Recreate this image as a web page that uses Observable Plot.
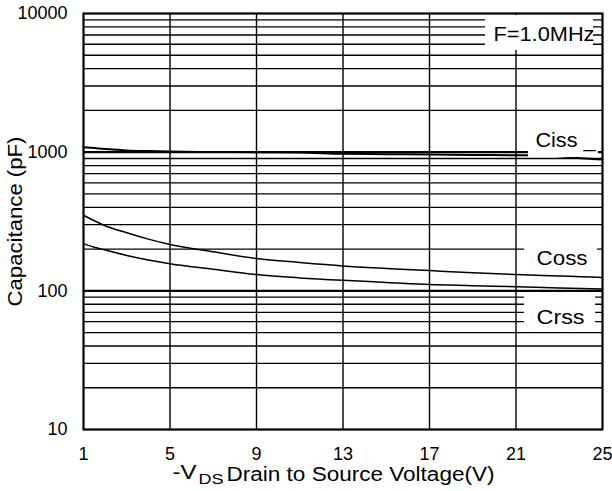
<!DOCTYPE html>
<html>
<head>
<meta charset="utf-8">
<script src="https://cdn.jsdelivr.net/npm/d3@7"></script>
<script src="https://cdn.jsdelivr.net/npm/@observablehq/plot@0.6"></script>
<style>
  html, body { margin: 0; padding: 0; background: #fff; }
</style>
</head>
<body>
<script>
// ---- data ----
const voltage = [1, 1.5, 2, 3, 4, 5, 7, 9, 11, 13, 15, 17, 19, 21, 23, 24, 25];
const ciss = [1085, 1070, 1055, 1030, 1018, 1010, 1003, 1000, 995, 973, 967, 962, 956, 950, 935, 905, 885];
const coss = [351, 320, 295, 262, 236, 216, 191, 171, 160, 151, 145, 140, 135, 131, 128, 126.5, 125];
const crss = [219, 206, 197, 180, 167, 157, 143, 131, 124, 119, 115, 111, 109, 107, 105, 104, 103];

const xTicks = [1, 5, 9, 13, 17, 21, 25];
const yTicks = [10, 100, 1000, 10000];

const labelText = ["F=1.0MHz", "Ciss _", "Coss", "Crss"];
const labelX = [19.96, 21.9, 21.95, 21.95];
const labelY = [6383, 1081, 152.3, 58.1];

const boxX1 = [19.59, 21.58, 21.39, 21.39];
const boxX2 = [24.58, 24.81, 24.77, 24.68];
const boxY1 = [5410, 915, 133, 51.8];
const boxY2 = [9660, 1690, 272, 97.3];

// ---- derived tables ----
const series = [
  ...voltage.map((v, i) => ({v, c: ciss[i], s: "Ciss"})),
  ...voltage.map((v, i) => ({v, c: coss[i], s: "Coss"})),
  ...voltage.map((v, i) => ({v, c: crss[i], s: "Crss"}))
];
const gridY = [];
for (const d of [10, 100, 1000]) for (let k = 1; k <= 9; k++) gridY.push(k * d);
gridY.push(10000);
const majorY = [100, 1000];
const labels = labelText.map((t, i) => ({t, x: labelX[i], y: labelY[i]}));
const boxes = boxX1.map((x1, i) => ({x1, x2: boxX2[i], y1: boxY1[i], y2: boxY2[i]}));

const textWidths = {
  "Capacitance (pF)": 170,
  "Drain to Source Voltage(V)": 268,
  "-V": 24,
  "DS": 25,
  "F=1.0MHz": 101,
  "Ciss _": 60,
  "Coss": 51,
  "Crss": 48
};

const chart = Plot.plot({
  width: 612,
  height: 491,
  marginLeft: 83,
  marginRight: 10,
  marginTop: 13,
  marginBottom: 62,
  style: {fontFamily: "'Liberation Sans', Arial, sans-serif", fontSize: "18px", background: "white", color: "black"},
  x: {domain: [1, 25]},
  y: {type: "log", domain: [10, 10000]},
  marks: [
    Plot.ruleY(gridY.filter(d => !majorY.includes(d)), {stroke: "black", strokeWidth: 1.3}),
    Plot.ruleY(majorY, {stroke: "black", strokeWidth: 2.2}),
    Plot.ruleX(xTicks, {stroke: "black", strokeWidth: 1.4}),
    Plot.line(series, {x: "v", y: "c", z: "s", stroke: "black", strokeWidth: d => d.s === "Ciss" ? 2 : 1.5, curve: "monotone-x"}),
    Plot.rectX(boxes, {x1: "x1", x2: "x2", y1: "y1", y2: "y2", fill: "white"}),
    Plot.text(labels, {x: "x", y: "y", text: "t", textAnchor: "start", lineAnchor: "bottom", fontSize: 20, fill: "black"}),
    Plot.frame({stroke: "black", strokeWidth: 2}),
    Plot.axisY(yTicks, {tickSize: 0, tickPadding: 16, tickFormat: d => String(d), label: null, fontSize: 18}),
    Plot.axisX(xTicks, {tickSize: 0, tickPadding: 18, tickFormat: d => String(d), label: null, fontSize: 18}),
    Plot.text(["Capacitance (pF)"], {frameAnchor: "left", dx: -68, rotate: -90, textAnchor: "middle", lineAnchor: "middle", fontSize: 20, fill: "black"}),
    Plot.text(["-V"], {frameAnchor: "bottom-left", dx: 89, dy: 49, textAnchor: "start", lineAnchor: "bottom", fontSize: 20, fill: "black"}),
    Plot.text(["DS"], {frameAnchor: "bottom-left", dx: 115, dy: 54, textAnchor: "start", lineAnchor: "bottom", fontSize: 14, fill: "black"}),
    Plot.text(["Drain to Source Voltage(V)"], {frameAnchor: "bottom-left", dx: 143, dy: 51, textAnchor: "start", lineAnchor: "bottom", fontSize: 20, fill: "black"})
  ]
});

document.body.appendChild(chart);
d3.select(chart).selectAll("text").each(function () {
  const w = textWidths[this.textContent];
  if (w) {
    this.setAttribute("textLength", w);
    this.setAttribute("lengthAdjust", "spacingAndGlyphs");
  }
});
</script>
</body>
</html>
